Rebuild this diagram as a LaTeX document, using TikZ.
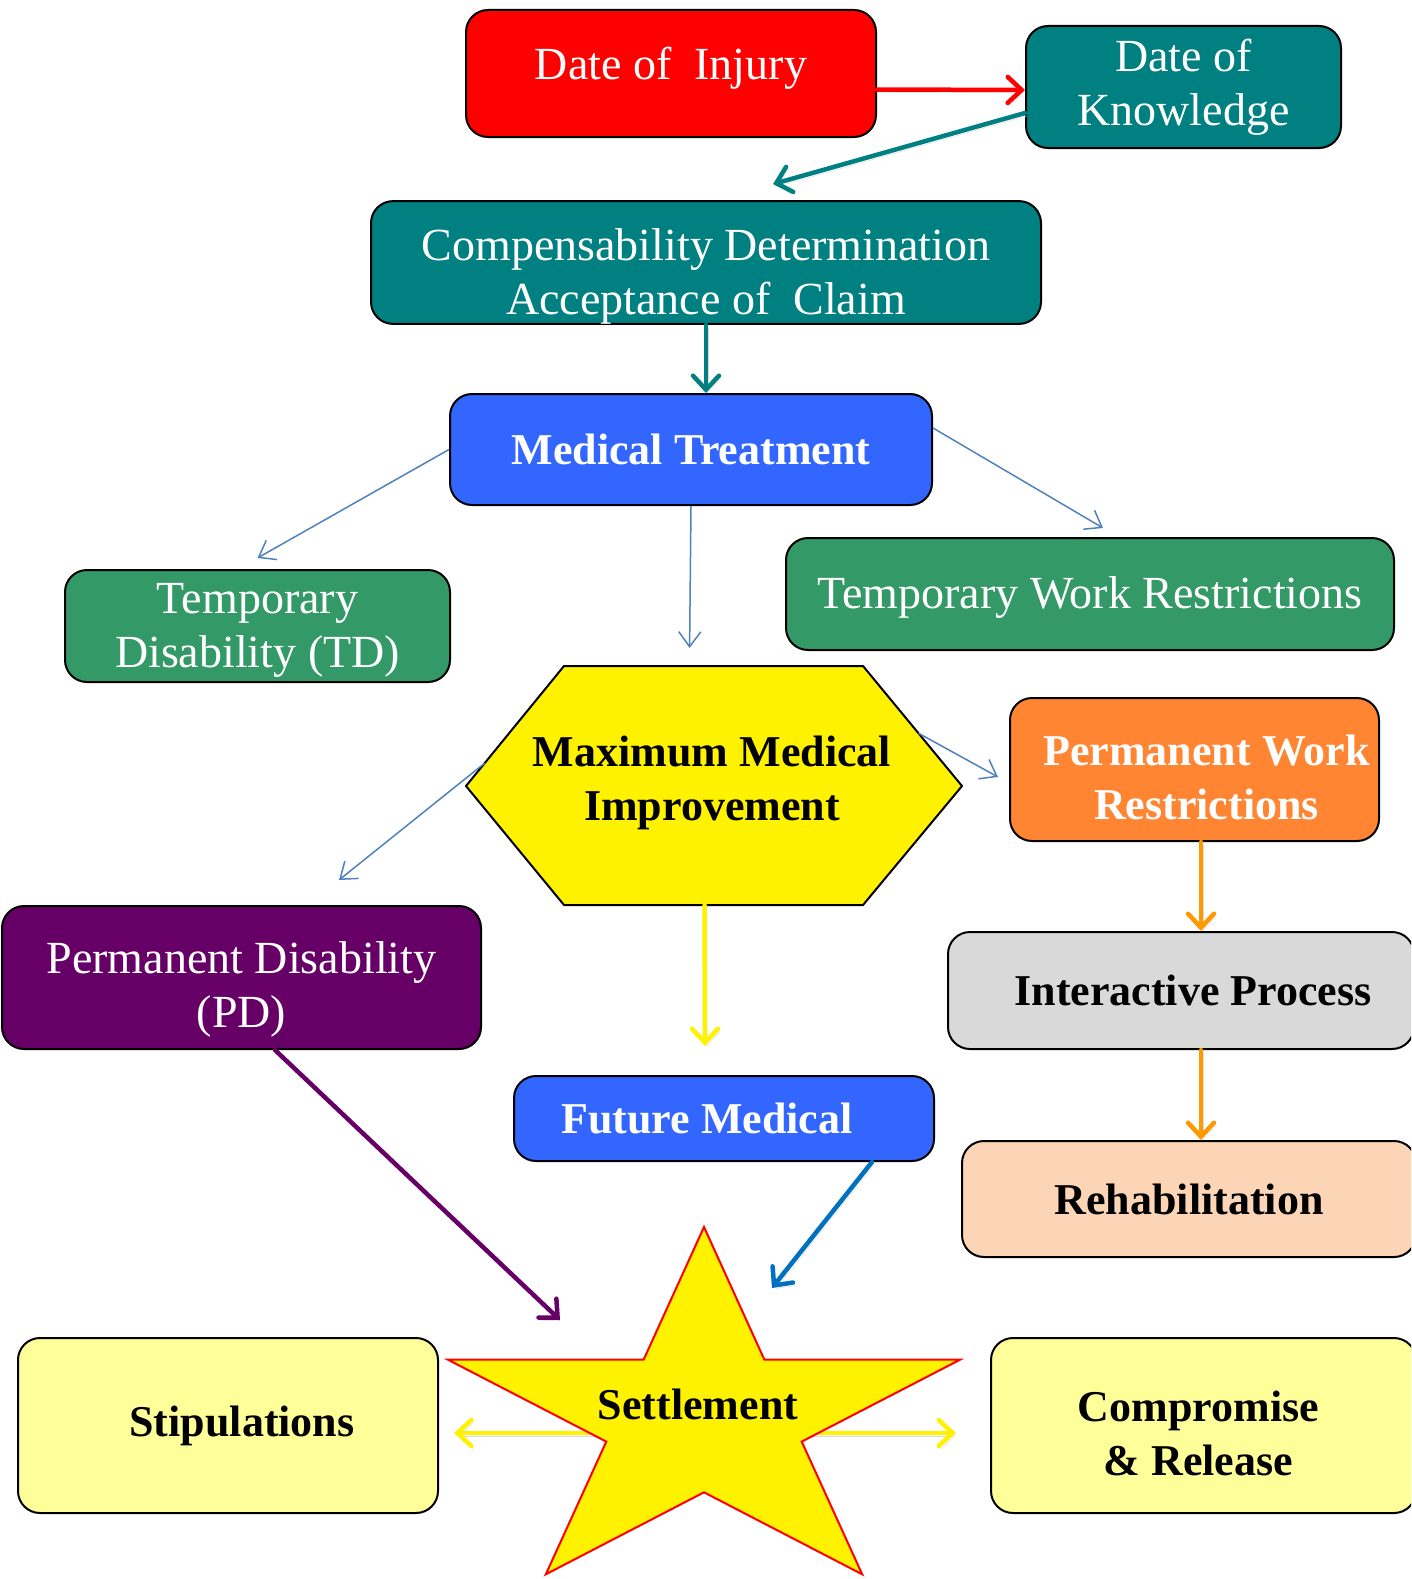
\documentclass[tikz,border=0pt]{standalone}
\usepackage{fontspec}
\setmainfont{Liberation Serif}
\usetikzlibrary{arrows.meta,calc}
\definecolor{injred}{HTML}{FF0000}
\definecolor{dkteal}{HTML}{008080}
\definecolor{medblue}{HTML}{3366FF}
\definecolor{tdgreen}{HTML}{339966}
\definecolor{pwrorange}{HTML}{FF8533}
\definecolor{arrorange}{HTML}{FF9900}
\definecolor{ipgrey}{HTML}{D9D9D9}
\definecolor{peach}{HTML}{FBD5B5}
\definecolor{pdpurple}{HTML}{660066}
\definecolor{paleyellow}{HTML}{FFFF99}
\definecolor{flowblue}{HTML}{4F81BD}
\definecolor{fmblue}{HTML}{0070C0}

\begin{document}
\begin{tikzpicture}
 [x=1pt, y=-1pt,
  box/.style={draw, line width=2pt, rounded corners=22pt, align=center, inner sep=0pt},
  wtext/.style={text=white, font=\fontsize{46}{54}\selectfont},
  wbold/.style={text=white, font=\fontsize{44}{54}\selectfont\bfseries},
  btext/.style={text=black, font=\fontsize{44}{54}\selectfont\bfseries, align=center},
  flow/.style={draw=flowblue, line width=1.5pt, -{Straight Barb[length=15pt,width=22pt]}},
  heavy/.style={line width=4.5pt, line cap=round,
    preaction={draw=black!15, transform canvas={shift={(2pt,-3pt)}}},
    -{Straight Barb[length=14pt,width=26pt,line cap=round]}},
  hexa/.style={draw, fill=yellow, line width=2pt, line join=round},
  starshape/.style={draw=red, fill=yellow, line width=2pt}]

  \useasboundingbox (0,0) rectangle (1411,1579);
  \clip (0,0) rectangle (1411,1579);

  \node[box, fill=injred, wtext, text height=21pt, minimum width=410pt, minimum height=127pt] (injury) at (671,73.5) {Date of\ \ Injury};
  \node[box, fill=dkteal, wtext, minimum width=315pt, minimum height=122pt] (know) at (1183.5,87) {Date of\\Knowledge};
  \node[box, fill=dkteal, wtext, text height=113pt, minimum width=670pt, minimum height=121pt] (comp) at (706,262.5) {Compensability Determination\\Acceptance of\ \ Claim};
  \node[box, fill=medblue, wbold, minimum width=482pt, minimum height=111pt] (medtx) at (691,449.5) {Medical Treatment};
  \node[box, fill=tdgreen, wtext, text height=92pt, minimum width=385pt, minimum height=112pt] (tempd) at (257.5,626) {Temporary\\Disability (TD)};
  \node[box, fill=tdgreen, wtext, text height=39pt, minimum width=608pt, minimum height=112pt] (tempw) at (1090,594) {Temporary Work Restrictions};
  \node[box, fill=pwrorange, wbold, text height=100pt, minimum width=369pt, minimum height=143pt] (permw) at (1194.5,769.5) {\hspace*{24pt}Permanent Work\\\hspace*{24pt}Restrictions};
  \node[box, fill=ipgrey, btext, minimum width=466pt, minimum height=117pt] (interact) at (1181,990.5) {\hspace*{24pt}Interactive Process};
  \node[box, fill=peach, btext, minimum width=454pt, minimum height=116pt] (rehab) at (1189,1199) {Rehabilitation};
  \node[box, fill=pdpurple, wtext, text height=109pt, minimum width=479pt, minimum height=143pt] (permd) at (241.5,977.5) {Permanent Disability\\(PD)};
  \node[box, fill=medblue, wbold, minimum width=420pt, minimum height=85pt] (future) at (724,1118.5) {Future Medical\hspace*{34pt}};
  \node[box, fill=paleyellow, btext, minimum width=420pt, minimum height=175pt] (stip) at (228,1425.5) {\hspace*{28pt}Stipulations};
  \node[box, fill=paleyellow, btext, text height=100pt, minimum width=425pt, minimum height=175pt] (comprom) at (1203.5,1425.5) {Compromise\hspace*{10pt}\\\&  Release\hspace*{10pt}};

  % MMI hexagon
  \coordinate (hl) at (466,786);
  \coordinate (htl) at (564,666);
  \coordinate (htr) at (863,666);
  \coordinate (hr) at (962,786);
  \coordinate (hbr) at (863,905);
  \coordinate (hbl) at (564,905);
  \draw[hexa] (hl) -- (htl) -- (htr) -- (hr) -- (hbr) -- (hbl) -- cycle;
  \node[btext] (mmi) at (712,783) {Maximum Medical\\Improvement};

  \coordinate (star) at (704,1419);

  \draw[heavy, draw=injred] ([yshift=-16pt]injury.east) -- ([yshift=-3pt]know.west);
  \draw[heavy, draw=dkteal] ([yshift=-26pt]know.west) -- ([shift={(67pt,16pt)}]comp.north);
  \draw[heavy, draw=dkteal] (comp.south) -- (comp.south |- medtx.north);
  \draw[flow] (medtx.west) -- ([yshift=11pt]tempd.north);
  \draw[flow] (medtx.south) -- ($(htl)!.42!(htr)+(0,-18)$);
  \draw[flow] ([yshift=21.5pt]medtx.east) -- ([shift={(13pt,9pt)}]tempw.north);
  \draw[flow] ($(hl)!.19!(htl)$) -- ([shift={(97.5pt,25pt)}]permd.north);
  \draw[flow] ($(hr)!.44!(htr)$) -- ([shift={(-11pt,-7.5pt)}]permw.west);
  \draw[heavy, draw=yellow] ($(hbl)!.47!(hbr)$) -- ([shift={(-19pt,29pt)}]future.north);
  \draw[heavy, draw=arrorange] ([xshift=6.5pt]permw.south) -- ([xshift=20pt]interact.north);
  \draw[heavy, draw=arrorange] ([xshift=20pt]interact.south) -- ([xshift=12pt]rehab.north);
  \draw[heavy, draw=pdpurple] ([xshift=33.5pt]permd.south) -- ([shift={(-144pt,99pt)}]star);
  \draw[heavy, draw=fmblue] ([xshift=148pt]future.south) -- ([shift={(68pt,131pt)}]star);
  \draw[heavy, draw=yellow] ([shift={(-108pt,-14pt)}]star) -- ([shift={(15pt,-7.5pt)}]stip.east);
  \draw[heavy, draw=yellow] ([shift={(102pt,-14pt)}]star) -- ([shift={(-34pt,-7.5pt)}]comprom.west);

  % settlement star
  \draw[starshape] (704,1227) -- (643.6,1359.7) -- (448,1359.7) -- (606.3,1441.6) -- (545.8,1574.3)
    -- (704,1492.3) -- (862.2,1574.3) -- (801.7,1441.6) -- (960,1359.7) -- (764.4,1359.7) -- cycle;
  \node[btext] (settle) at (698,1404) {Settlement};
\end{tikzpicture}
\end{document}
